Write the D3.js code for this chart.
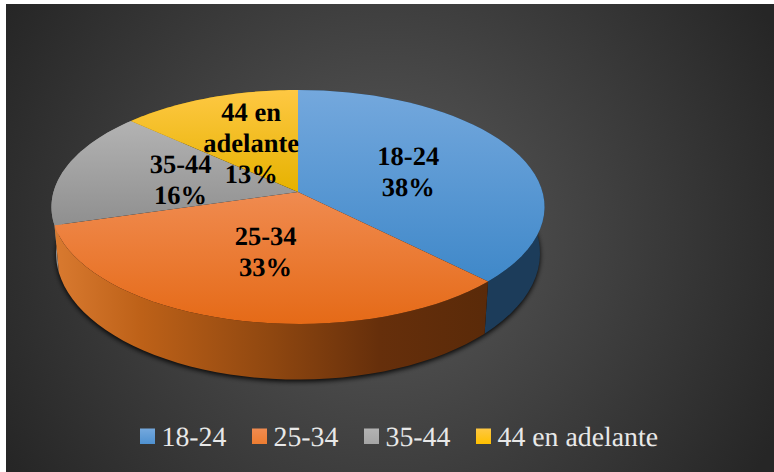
<!DOCTYPE html>
<html>
<head>
<meta charset="utf-8">
<script src="https://cdn.jsdelivr.net/npm/d3@7"></script>
<style>
html, body { margin: 0; padding: 0; background: #fff; }
svg { display: block; }
text { font-family: "Liberation Serif", "Times New Roman", serif; text-rendering: geometricPrecision; }
</style>
</head>
<body>
<script>
const w = 774;
const h = 472;

const categories = ["18-24", "25-34", "35-44", "44 en adelante"];
const values = [37.5, 33, 16.2, 13.3];
const labelLines = [["18-24"], ["25-34"], ["35-44"], ["44 en", "adelante"]];
const colors = ["#5b9bd5", "#ed7d31", "#a5a5a5", "#ffc000"];
const topLight = ["#74a8dd", "#f08b50", "#b3b3b3", "#fec843"];
const topDark = ["#3f88c9", "#e56a17", "#8f8f8f", "#e6b200"];

// perspective view of the disc: u is sideways, v goes away from the viewer
const cx = 298;
const persp = 0.128;
function project(angle, r, k, b, a) {
    const u = r * Math.sin(angle);
    const v = r * Math.cos(angle);
    const d = 1 + persp * v;
    return [cx + k * u / d, (a * v + b) / d];
}
const topPoint = (angle, r = 1) => project(angle, r, 244.5, 192, -90.5);
const basePoint = (angle, r = 1) => project(angle, r, 240, 237, -94);

const pie = d3.pie().sort(null).value(d => d);
const arcs = pie(values);

const svg = d3.select("body")
    .append("svg")
    .attr("width", w)
    .attr("height", h);

const defs = svg.append("defs");

const bg = defs.append("radialGradient")
    .attr("id", "bg")
    .attr("gradientUnits", "userSpaceOnUse")
    .attr("cx", 385).attr("cy", 235).attr("r", 440);
bg.append("stop").attr("offset", 0).attr("stop-color", "#5a5a5a");
bg.append("stop").attr("offset", 1).attr("stop-color", "#262626");

categories.forEach((c, i) => {
    const g = defs.append("linearGradient")
        .attr("id", "top" + i)
        .attr("x1", 0).attr("y1", 0).attr("x2", 0).attr("y2", 1);
    g.append("stop").attr("offset", 0).attr("stop-color", topLight[i]);
    g.append("stop").attr("offset", 1).attr("stop-color", topDark[i]);
    const s = defs.append("linearGradient")
        .attr("id", "swatch" + i)
        .attr("x1", 0).attr("y1", 0).attr("x2", 0).attr("y2", 1);
    s.append("stop").attr("offset", 0).attr("stop-color", topLight[i]);
    s.append("stop").attr("offset", 1).attr("stop-color", i == 0 ? "#4f91d0" : colors[i]);
});

// side walls shade from the left to the right of the pie
const sideStops = [
    [0, "#d97a30"], [0.2, "#bd6118"], [0.5, "#8f4710"], [0.75, "#662f0b"], [1, "#5a2a09"]
];
const sideOrange = defs.append("linearGradient")
    .attr("id", "side1")
    .attr("x1", 0).attr("y1", 0).attr("x2", 1).attr("y2", 0);
sideStops.forEach(s => sideOrange.append("stop").attr("offset", s[0]).attr("stop-color", s[1]));

const sideFill = ["#1c3c5a", "url(#side1)", "#8c8c8c", "#9a7400"];

defs.append("filter")
    .attr("id", "blur")
    .attr("x", "-10%").attr("y", "-10%").attr("width", "120%").attr("height", "120%")
    .append("feGaussianBlur")
    .attr("stdDeviation", 2.5);

svg.append("rect")
    .attr("x", 6).attr("y", 4)
    .attr("width", w - 6).attr("height", h - 4)
    .attr("fill", "url(#bg)");

const steps = d3.range(0, 1.001, 1 / 40);
function arcPoints(d, fn, r) {
    return steps.map(t => fn(d.startAngle + t * (d.endAngle - d.startAngle), r));
}
const line = d3.line();

// soft shadow under the base of the pie
const baseRing = d3.range(0, 2 * Math.PI, Math.PI / 90).map(a => {
    const p = basePoint(a);
    return [p[0], p[1] + 2];
});
svg.append("path")
    .attr("d", line(baseRing) + "Z")
    .attr("fill", "#000")
    .attr("fill-opacity", 0.9)
    .attr("filter", "url(#blur)");

// back walls first so that the front ones cover them
svg.append("g")
    .selectAll("path")
    .data([3, 2, 0, 1].map(i => ({ d: arcs[i], i })))
    .join("path")
    .attr("d", o => line(arcPoints(o.d, topPoint, 1).concat(arcPoints(o.d, basePoint, 1).reverse())) + "Z")
    .attr("fill", o => sideFill[o.i]);

svg.append("g")
    .selectAll("path")
    .data(arcs)
    .join("path")
    .attr("d", d => line([topPoint(0, 0)].concat(arcPoints(d, topPoint, 1))) + "Z")
    .attr("fill", (d, i) => "url(#top" + i + ")");

const labels = svg.append("g")
    .attr("font-weight", "bold")
    .attr("font-size", 26.5)
    .attr("fill", "#000")
    .attr("text-anchor", "middle");

const lineStep = 31;
arcs.forEach((d, i) => {
    const p = topPoint((d.startAngle + d.endAngle) / 2, 0.5);
    const rows = labelLines[i].concat([Math.round(d.data) + "%"]);
    const text = labels.append("text");
    rows.forEach((r, j) => {
        text.append("tspan")
            .attr("x", p[0])
            .attr("y", p[1] + 9.5 + (j - (rows.length - 1) / 2) * lineStep)
            .text(r);
    });
});

// legend entries sit one after the other
const legendWidths = [112, 112, 112];
const legendX = d3.cumsum([140].concat(legendWidths));
const legend = svg.append("g")
    .selectAll("g")
    .data(categories)
    .join("g")
    .attr("transform", (d, i) => "translate(" + legendX[i] + ",428.5)");
legend.append("rect")
    .attr("width", 15).attr("height", 15.5)
    .attr("fill", (d, i) => "url(#swatch" + i + ")");
legend.append("text")
    .attr("x", 21.5)
    .attr("y", 17)
    .attr("font-size", 27.8)
    .attr("fill", "#e8e8e8")
    .text(d => d);
</script>
</body>
</html>
